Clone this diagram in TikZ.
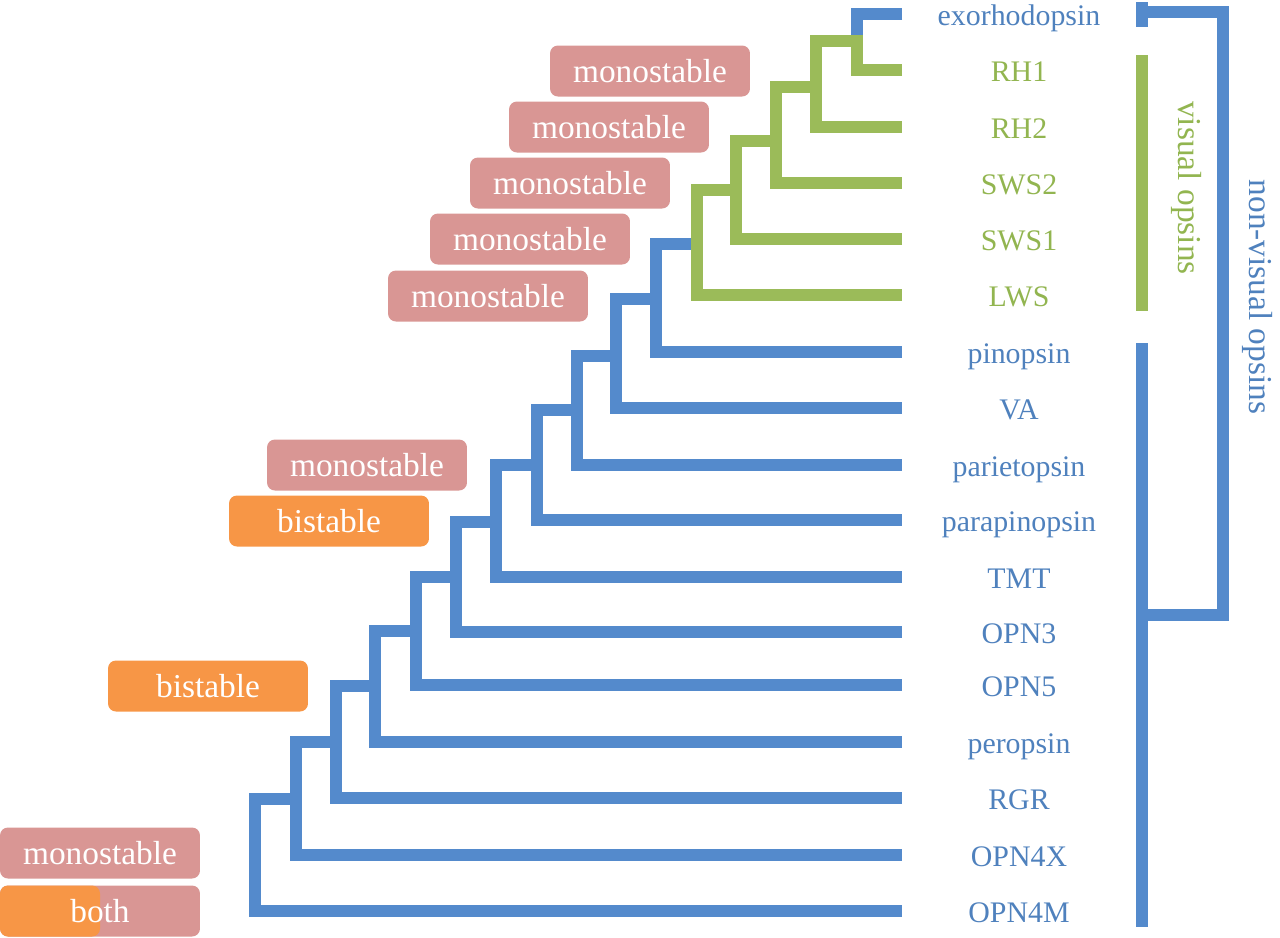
\documentclass[tikz,border=0pt]{standalone}
\usepackage{fontspec}
\setmainfont{Liberation Serif}
\definecolor{opsinblue}{RGB}{84,138,204}
\definecolor{opsingreen}{RGB}{155,187,89}
\definecolor{monopink}{RGB}{217,150,148}
\definecolor{biorange}{RGB}{247,150,70}
\definecolor{labelblue}{RGB}{79,129,189}
\definecolor{labelgreen}{RGB}{146,181,80}
\begin{document}
\begin{tikzpicture}[x=0.02cm, y=-0.02cm,
    blueline/.style={draw=opsinblue, line width=7.3pt},
    greenline/.style={draw=opsingreen, line width=7.3pt},
    leaf/.style={anchor=base, inner sep=0pt, font=\fontsize{17}{20}\selectfont},
    state/.style={rectangle, rounded corners=4.5pt, minimum width=4cm, minimum height=1.02cm, inner sep=0pt, text=white, font=\fontsize{19}{22}\selectfont},
    mono/.style={state, fill=monopink},
    bi/.style={state, fill=biorange},
    group/.style={rotate=-90, inner sep=0pt, font=\fontsize{19}{22}\selectfont}
]
\useasboundingbox (0,0) rectangle (1280,937);

% leaf tips
\coordinate (exo) at (902,14);
\coordinate (rh1) at (902,70);
\coordinate (rh2) at (902,127);
\coordinate (sws2) at (902,183);
\coordinate (sws1) at (902,239);
\coordinate (lws) at (902,295);
\coordinate (pin) at (902,352);
\coordinate (va) at (902,408);
\coordinate (par) at (902,465);
\coordinate (ppn) at (902,520);
\coordinate (tmt) at (902,577);
\coordinate (opn3) at (902,632);
\coordinate (opn5) at (902,685);
\coordinate (per) at (902,742);
\coordinate (rgr) at (902,798);
\coordinate (opn4x) at (902,855);
\coordinate (opn4m) at (902,911);

% internal nodes
\coordinate (n0) at (857,41);
\coordinate (n1) at (816,87);
\coordinate (n2) at (776,141);
\coordinate (n3) at (736,190);
\coordinate (n4) at (697,244);
\coordinate (n5) at (656,299);
\coordinate (n6) at (616,356);
\coordinate (n7) at (577,410);
\coordinate (n8) at (537,465);
\coordinate (n9) at (496,522);
\coordinate (n10) at (456,577);
\coordinate (n11) at (416,631);
\coordinate (n12) at (375,686);
\coordinate (n13) at (336,742);
\coordinate (n14) at (296,799);
\coordinate (n15) at (255,855);

% blue branches
\draw[blueline] (exo) -| (n0);
\draw[blueline] (n4) -| (n5 |- pin) -- (pin);
\draw[blueline] (n5) -| (n6 |- va) -- (va);
\draw[blueline] (n6) -| (n7 |- par) -- (par);
\draw[blueline] (n7) -| (n8 |- ppn) -- (ppn);
\draw[blueline] (n8) -| (n9 |- tmt) -- (tmt);
\draw[blueline] (n9) -| (n10 |- opn3) -- (opn3);
\draw[blueline] (n10) -| (n11 |- opn5) -- (opn5);
\draw[blueline] (n11) -| (n12 |- per) -- (per);
\draw[blueline] (n12) -| (n13 |- rgr) -- (rgr);
\draw[blueline] (n13) -| (n14 |- opn4x) -- (opn4x);
\draw[blueline] (n14) -| (n15 |- opn4m) -- (opn4m);

% green branches
\draw[greenline] (rh1) -| (n0) -| (n1 |- rh2) -- (rh2);
\draw[greenline] (n1) -| (n2 |- sws2) -- (sws2);
\draw[greenline] (n2) -| (n3 |- sws1) -- (sws1);
\draw[greenline] (n3) -| (n4 |- lws) -- (lws);

% leaf labels
\node[leaf, text=labelblue] (exoL) at (1019,25) {exorhodopsin};
\node[leaf, text=labelgreen] (rh1L) at (1019,81) {RH1};
\node[leaf, text=labelgreen] (rh2L) at (1019,138) {RH2};
\node[leaf, text=labelgreen] (sws2L) at (1019,194) {SWS2};
\node[leaf, text=labelgreen] (sws1L) at (1019,250) {SWS1};
\node[leaf, text=labelgreen] (lwsL) at (1019,306) {LWS};
\node[leaf, text=labelblue] (pinL) at (1019,363) {pinopsin};
\node[leaf, text=labelblue] (vaL) at (1019,419) {VA};
\node[leaf, text=labelblue] (parL) at (1019,476) {parietopsin};
\node[leaf, text=labelblue] (ppnL) at (1019,531) {parapinopsin};
\node[leaf, text=labelblue] (tmtL) at (1019,588) {TMT};
\node[leaf, text=labelblue] (opn3L) at (1019,643) {OPN3};
\node[leaf, text=labelblue] (opn5L) at (1019,696) {OPN5};
\node[leaf, text=labelblue] (perL) at (1019,753) {peropsin};
\node[leaf, text=labelblue] (rgrL) at (1019,809) {RGR};
\node[leaf, text=labelblue] (opn4xL) at (1019,866) {OPN4X};
\node[leaf, text=labelblue] (opn4mL) at (1019,922) {OPN4M};

% state boxes
\node[mono] (m1) at (650,71) {monostable};
\node[mono] (m2) at (609,127) {monostable};
\node[mono] (m3) at (570,183) {monostable};
\node[mono] (m4) at (530,239) {monostable};
\node[mono] (m5) at (488,296) {monostable};
\node[mono] (m6) at (367,465) {monostable};
\node[bi] (b1) at (329,521) {bistable};
\node[bi] (b2) at (208,686) {bistable};
\node[mono] (m7) at (100,853) {monostable};
\node[mono, path picture={\fill[biorange, rounded corners=4.5pt] (path picture bounding box.south west) rectangle (path picture bounding box.north);}] (both) at (100,911) {both};

% group brackets
\coordinate (exoTop) at (1142,2);
\coordinate (exoBot) at (1142,27);
\coordinate (visTop) at (1142,55);
\coordinate (visBot) at (1142,311);
\coordinate (nvTop) at (1142,343);
\coordinate (nvBot) at (1142,927);
\coordinate (brTop) at (1223,12);
\coordinate (brBot) at (1223,615);
\draw[blueline] (exoTop) -- (exoBot);
\draw[greenline] (visTop) -- (visBot);
\draw[blueline] (nvTop) -- (nvBot);
\draw[blueline] (exoTop |- brTop) -- (brTop) -- (brBot) -- (nvTop |- brBot);
\node[group, text=labelgreen] (visL) at (1187,188) {visual opsins};
\node[group, text=labelblue] (nvL) at (1258,297) {non-visual opsins};
\end{tikzpicture}
\end{document}
